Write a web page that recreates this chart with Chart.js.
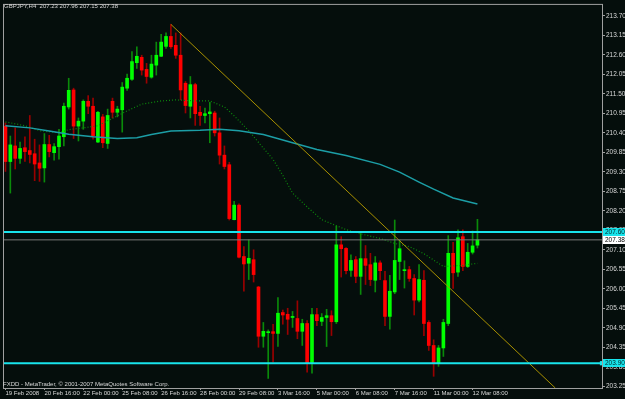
<!DOCTYPE html>
<html>
<head>
<meta charset="utf-8">
<script src="https://cdn.jsdelivr.net/npm/chart.js@4.4.1/dist/chart.umd.min.js"></script>
<style>
  html, body { margin: 0; padding: 0; background: #050e0c; overflow: hidden; }
  #wrap { width: 625px; height: 399px; position: relative; }
</style>
</head>
<body>
<div id="wrap"><canvas id="chart"></canvas></div>
<script>
// GBPJPY H4 candles, 19 Feb 2008 08:00 .. 12 Mar 2008 12:00
const opens = [210.59, 209.59, 210.03, 209.68, 209.98, 209.90, 209.81, 209.55, 209.41, 210.07,
  209.84, 210.01, 210.29, 211.13, 211.61, 210.59, 210.73, 211.29, 211.15, 210.14,
  210.85, 210.10, 211.29, 210.98, 211.05, 211.66, 211.91, 212.38, 212.53, 212.19,
  211.97, 212.31, 212.56, 212.84, 213.12, 212.87, 212.59, 211.80, 211.15, 211.76,
  210.98, 210.89, 210.94, 210.96, 210.40, 209.77, 209.50, 207.95, 208.36, 206.91,
  206.72, 206.82, 206.05, 204.66, 204.76, 204.79, 204.74, 205.33, 205.28, 205.19,
  205.16, 204.80, 205.02, 203.92, 205.27, 205.08, 205.19, 205.24, 205.07, 207.24,
  207.14, 206.52, 206.82, 206.35, 206.85, 206.68, 206.24, 206.73, 206.23, 205.22,
  205.91, 206.77, 206.51, 206.54, 206.29, 205.68, 206.24, 205.05, 204.40, 203.90,
  204.33, 205.02, 207.00, 206.47, 207.47, 206.63, 207.03, 207.23];
const highs = [210.68, 210.31, 210.54, 210.14, 210.29, 210.89, 210.22, 210.06, 210.38, 210.33,
  210.10, 210.50, 211.24, 211.94, 211.66, 210.82, 211.33, 211.45, 211.38, 211.01,
  210.92, 211.07, 211.38, 211.15, 211.82, 212.06, 212.69, 212.83, 212.59, 212.36,
  212.59, 212.96, 213.18, 213.22, 213.46, 213.22, 213.22, 211.85, 211.99, 211.80,
  211.15, 211.10, 211.26, 211.01, 210.82, 210.03, 209.57, 208.47, 208.40, 207.19,
  207.38, 207.10, 206.07, 205.05, 204.84, 205.00, 205.75, 205.40, 205.45, 205.36,
  205.66, 205.14, 205.10, 205.45, 205.45, 205.30, 205.42, 205.38, 207.77, 207.47,
  207.16, 206.96, 206.91, 207.56, 207.22, 207.00, 206.91, 206.79, 206.49, 206.38,
  207.94, 207.38, 206.79, 206.63, 206.40, 206.68, 206.51, 205.10, 204.56, 204.40,
  205.14, 207.50, 207.31, 207.66, 207.66, 207.28, 207.63, 207.96];
const lows = [209.31, 208.70, 209.38, 209.54, 209.59, 209.55, 209.05, 209.03, 209.01, 209.72,
  209.63, 209.66, 210.03, 211.07, 210.24, 210.17, 210.50, 210.94, 210.22, 210.12,
  209.98, 209.96, 210.82, 210.85, 210.42, 211.60, 211.88, 212.22, 212.03, 211.80,
  211.94, 212.03, 212.55, 212.78, 212.78, 212.50, 211.33, 210.96, 210.82, 210.61,
  210.61, 210.68, 210.12, 210.31, 209.52, 209.38, 207.94, 207.94, 206.87, 205.93,
  206.26, 206.19, 204.35, 204.35, 203.47, 203.93, 204.37, 205.00, 204.71, 204.91,
  204.59, 204.40, 203.65, 203.62, 204.96, 204.96, 204.37, 204.68, 205.02, 206.33,
  206.42, 206.35, 206.17, 205.84, 206.12, 206.09, 205.91, 206.26, 204.96, 204.86,
  205.86, 206.26, 206.02, 206.21, 205.26, 205.63, 204.68, 204.26, 203.53, 203.81,
  204.09, 204.96, 206.01, 206.35, 206.51, 206.60, 206.98, 207.15];
const closes = [209.59, 210.06, 209.68, 209.96, 209.87, 209.79, 209.52, 209.40, 210.07, 209.87,
  210.01, 210.31, 211.15, 211.60, 210.59, 210.73, 211.29, 211.15, 210.31, 210.98,
  210.12, 210.89, 210.98, 211.07, 211.69, 211.94, 212.41, 212.56, 212.17, 211.99,
  212.34, 212.59, 212.96, 213.12, 212.83, 212.59, 211.61, 211.17, 211.76, 210.94,
  210.89, 210.94, 210.99, 210.40, 209.77, 209.45, 207.98, 208.36, 206.89, 206.70,
  206.86, 206.40, 204.66, 204.80, 204.79, 204.74, 205.31, 205.26, 205.14, 205.22,
  204.80, 205.02, 203.89, 205.27, 205.10, 205.19, 205.24, 205.07, 207.24, 207.13,
  206.51, 206.80, 206.35, 206.85, 206.66, 206.26, 206.73, 206.51, 205.22, 205.93,
  206.80, 207.13, 206.54, 206.29, 205.68, 206.26, 205.02, 204.40, 203.89, 204.33,
  205.05, 207.00, 206.45, 207.44, 206.63, 207.03, 207.21, 207.38];

// slow moving average (solid teal), read at bar indices
const maSlowIdx = [0, 5, 9, 13, 18, 23, 27, 30, 34, 40, 44, 48, 53, 59, 64, 70, 77, 81, 85, 88, 92, 97];
const maSlowVal = [210.60, 210.54, 210.45, 210.36, 210.29, 210.24, 210.26, 210.35, 210.45, 210.47, 210.50,
  210.46, 210.35, 210.12, 209.93, 209.76, 209.51, 209.29, 209.01, 208.81, 208.56, 208.39];

// fast moving average (dotted green)
const maFastIdx = [0, 4, 7, 11, 13, 16, 19, 23, 25, 28, 32, 35, 39, 42, 45, 47, 50, 52, 55, 57, 59,
  62, 65, 68, 70, 73, 77, 80, 83, 86, 90, 94, 97];
const maFastVal = [210.71, 210.60, 210.46, 210.40, 210.49, 210.54, 210.60, 210.88, 211.02, 211.21, 211.30,
  211.33, 211.30, 211.30, 211.13, 210.88, 210.46, 210.13, 209.65, 209.20, 208.70,
  208.31, 207.95, 207.78, 207.67, 207.55, 207.42, 207.28, 207.19, 206.99, 206.63, 206.66, 206.72];

// trend line anchors
const trendIdx = [34, 113];
const trendVal = [213.46, 203.20];

// horizontal levels
const levelHigh = 207.60;
const levelLow = 203.90;
const bidPrice = 207.38;

// axes
const yTicks = [213.70, 213.15, 212.60, 212.05, 211.50, 210.95, 210.40, 209.85, 209.30, 208.75,
  208.20, 207.65, 207.10, 206.55, 206.00, 205.45, 204.90, 204.35, 203.80, 203.25];
const xTickIdx = [0, 8, 16, 24, 32, 40, 48, 56, 64, 72, 80, 88, 96];
const xTickLabels = ['19 Feb 2008', '20 Feb 16:00', '22 Feb 00:00', '25 Feb 08:00', '26 Feb 16:00',
  '28 Feb 00:00', '29 Feb 08:00', '3 Mar 16:00', '5 Mar 00:00', '6 Mar 08:00', '7 Mar 16:00',
  '11 Mar 00:00', '12 Mar 08:00'];

const X_MIN = -0.3, X_MAX = 122.6;
const Y_MIN = 203.20, Y_MAX = 214.01;

const colors = {
  bg: '#050e0c',
  frame: '#a0a0a0',
  text: '#d8d8d8',
  upBody: '#00ff00',
  upWick: '#0a8a0a',
  downBody: '#ff0000',
  downWick: '#9a0000',
  cyan: '#18e4ec',
  bid: '#7a7a7a',
  trend: '#a89000',
  maSlow: '#1c9ea6',
  maFast: '#0c8a0c'
};

const FONT = '"Liberation Sans", Arial, sans-serif';
Chart.defaults.font.family = FONT;
Chart.defaults.font.size = 6;
Chart.defaults.color = colors.text;

const isUp = opens.map((o, i) => closes[i] >= o);

const bgPlugin = {
  id: 'bg',
  beforeDraw(chart) {
    const ctx = chart.ctx;
    ctx.save();
    ctx.fillStyle = colors.bg;
    ctx.fillRect(0, 0, chart.width, chart.height);
    ctx.restore();
  }
};

const overlayPlugin = {
  id: 'overlay',
  afterDraw(chart) {
    const ctx = chart.ctx;
    const a = chart.chartArea;
    const y = chart.scales.y;
    ctx.save();
    // frame
    ctx.strokeStyle = colors.frame;
    ctx.lineWidth = 1;
    ctx.strokeRect(a.left - 0.5, a.top - 0.5, a.right - a.left + 1, a.bottom - a.top + 1);

    // texts inside the chart
    ctx.font = '6px ' + FONT;
    ctx.fillStyle = colors.text;
    ctx.textBaseline = 'middle';
    ctx.textAlign = 'left';
    ctx.fillText('GBPJPY,H4  207.23 207.96 207.15 207.38', 4, 6.5);
    ctx.fillText('FXDD - MetaTrader, \u00a9 2001-2007 MetaQuotes Software Corp.', 3, 384);

    // price boxes on the right scale
    const boxes = [
      [levelHigh, colors.cyan, '#002828'],
      [bidPrice, '#ffffff', '#000000'],
      [levelLow, colors.cyan, '#002828']
    ];
    ctx.font = '6.5px ' + FONT;
    boxes.forEach(([v, bg, fg]) => {
      const py = Math.round(y.getPixelForValue(v));
      ctx.fillStyle = bg;
      ctx.fillRect(a.right + 1, py - 4, 22, 8);
      ctx.fillStyle = fg;
      ctx.fillText(v.toFixed(2), a.right + 3, py + 0.5);
    });
    ctx.restore();
  }
};

new Chart(document.getElementById('chart'), {
  type: 'bar',
  data: {
    datasets: [
      {
        type: 'line', order: 0,
        data: [{ x: X_MIN, y: levelHigh }, { x: X_MAX, y: levelHigh }],
        borderColor: colors.cyan, borderWidth: 2, pointRadius: 0
      },
      {
        type: 'line', order: 0,
        data: [{ x: X_MIN, y: levelLow }, { x: X_MAX, y: levelLow }],
        borderColor: colors.cyan, borderWidth: 2,
        pointRadius: [0, 3], pointStyle: 'rect',
        pointBackgroundColor: colors.cyan, pointBorderWidth: 0
      },
      {
        type: 'line', order: 0,
        data: [{ x: X_MIN, y: bidPrice }, { x: X_MAX, y: bidPrice }],
        borderColor: colors.bid, borderWidth: 1, pointRadius: 0
      },
      {
        type: 'line', order: 0,
        data: trendIdx.map((v, i) => ({ x: v, y: trendVal[i] })),
        borderColor: colors.trend, borderWidth: 1, pointRadius: 0
      },
      {
        type: 'line', order: 1,
        data: maSlowIdx.map((v, i) => ({ x: v, y: maSlowVal[i] })),
        borderColor: colors.maSlow, borderWidth: 1.5, pointRadius: 0
      },
      {
        type: 'line', order: 1,
        data: maFastIdx.map((v, i) => ({ x: v, y: maFastVal[i] })),
        borderColor: colors.maFast, borderWidth: 1.2, borderDash: [1, 2], pointRadius: 0
      },
      {
        // bodies
        order: 2, grouped: false,
        data: opens.map((o, i) => ({ x: i, y: [o, closes[i]] })),
        backgroundColor: isUp.map(u => u ? colors.upBody : colors.downBody),
        barThickness: 3, minBarLength: 1, borderWidth: 0
      },
      {
        // wicks
        order: 3, grouped: false,
        data: lows.map((l, i) => ({ x: i, y: [l, highs[i]] })),
        backgroundColor: isUp.map(u => u ? colors.upWick : colors.downWick),
        barThickness: 1, borderWidth: 0
      }
    ]
  },
  options: {
    responsive: true,
    maintainAspectRatio: false,
    devicePixelRatio: 1,
    animation: false,
    events: [],
    layout: { padding: { left: 1, top: 1, right: 0, bottom: 0 } },
    plugins: {
      legend: { display: false },
      tooltip: { enabled: false }
    },
    scales: {
      x: {
        type: 'linear',
        position: 'bottom',
        min: X_MIN,
        max: X_MAX,
        offset: false,
        afterFit(s) { s.height = 11; },
        afterBuildTicks(s) { s.ticks = xTickIdx.map(v => ({ value: v })); },
        ticks: {
          autoSkip: false, maxRotation: 0, minRotation: 0,
          align: 'start', padding: 0, color: colors.text,
          font: { size: 6 },
          callback: (v, i) => xTickLabels[i]
        },
        grid: { offset: false, drawOnChartArea: false, tickLength: 2, color: colors.frame },
        border: { display: true, color: colors.frame }
      },
      y: {
        type: 'linear',
        position: 'right',
        min: Y_MIN,
        max: Y_MAX,
        afterFit(s) { s.width = 23; },
        afterBuildTicks(s) { s.ticks = yTicks.map(v => ({ value: v })); },
        ticks: { padding: 1, color: colors.text, font: { size: 6.5 }, callback: v => v.toFixed(2) },
        grid: { drawOnChartArea: false, tickLength: 3, color: colors.frame },
        border: { display: true, color: colors.frame }
      }
    }
  },
  plugins: [bgPlugin, overlayPlugin]
});
</script>
</body>
</html>
